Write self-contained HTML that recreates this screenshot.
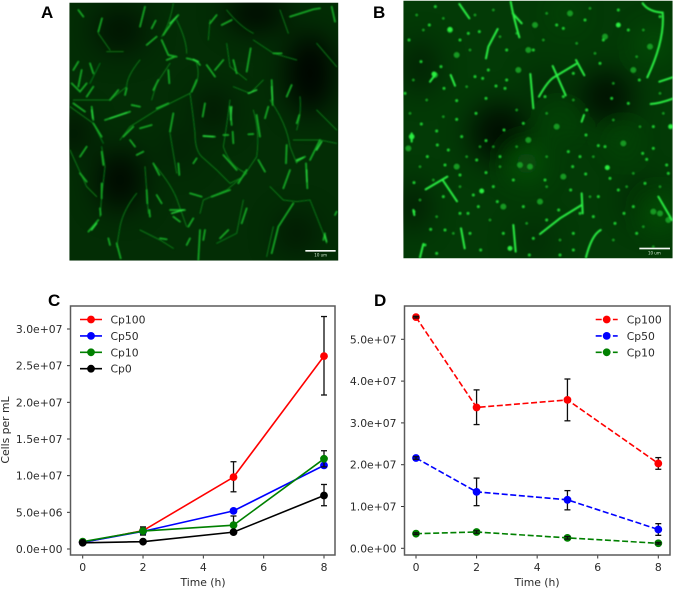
<!DOCTYPE html>
<html lang="en">
<head>
<meta charset="utf-8">
<title>Fluorescence micrographs and cell count charts</title>
<style>
html,body{margin:0;padding:0;background:#fff;width:673px;height:589px;overflow:hidden}
svg{display:block}
.tick{font:10.8px "DejaVu Sans",sans-serif;fill:#2a2a2a}
.panel{font:bold 17px "Liberation Sans",sans-serif;fill:#000}
</style>
</head>
<body>
<svg id="fig" width="673" height="589" viewBox="0 0 673 589" xmlns="http://www.w3.org/2000/svg">
<defs>
<filter id="b1" x="-5%" y="-5%" width="110%" height="110%"><feGaussianBlur stdDeviation="2.2"/></filter>
<filter id="b2" x="-20%" y="-20%" width="140%" height="140%"><feGaussianBlur stdDeviation="42"/></filter>
<filter id="soft" x="-5%" y="-5%" width="110%" height="110%"><feGaussianBlur stdDeviation="0.35"/></filter>
<clipPath id="ca"><rect x="118" y="8" width="807" height="774"/></clipPath>
<clipPath id="cb"><rect x="130" y="2" width="808" height="773"/></clipPath>
</defs>

<text class="panel" x="41" y="18">A</text>
<text class="panel" x="373" y="18">B</text>
<text class="panel" x="48" y="306">C</text>
<text class="panel" x="374" y="306">D</text>

<g transform="translate(30,0) scale(.33333)">
<g clip-path="url(#ca)">
<rect x="118" y="8" width="807" height="774" fill="#032d05"/>
<g filter="url(#b2)" fill="#000">
<ellipse cx="840" cy="220" rx="70" ry="120" opacity=".9"/>
<ellipse cx="680" cy="40" rx="90" ry="50" opacity=".85"/>
<ellipse cx="270" cy="540" rx="70" ry="90" opacity=".8"/>
<ellipse cx="130" cy="400" rx="40" ry="60" opacity=".7"/>
<ellipse cx="270" cy="90" rx="80" ry="70" opacity=".55"/>
<ellipse cx="550" cy="330" rx="50" ry="60" opacity=".5"/>
<ellipse cx="800" cy="700" rx="60" ry="60" opacity=".45"/>
<ellipse cx="450" cy="450" rx="40" ry="50" opacity=".35"/>
</g>
<g filter="url(#b1)" fill="none" stroke-linecap="round">
<path stroke="#0a7a14" stroke-width="3" d="M430,10 Q420,70 395,110 M440,60 Q470,120 470,160 M540,60 L535,120 M590,30 Q630,80 670,100 M670,120 Q700,140 730,160 L800,180 M240,150 L205,100 M230,155 L280,155 M210,190 L180,250 M330,180 Q290,230 290,260 L240,300 L130,300 M500,190 Q515,240 480,280 L380,330 L300,380 L270,420 M420,190 L380,250 L365,300 M480,280 Q490,350 495,400 Q495,450 515,470 L560,510 L600,550 L640,530 L680,470 M600,300 Q590,380 580,440 Q600,500 650,520 M670,330 Q690,400 680,470 M720,300 Q770,370 780,440 L800,490 M810,290 Q815,340 800,390 M215,440 L225,500 L215,590 L210,650 M320,580 Q280,630 270,680 L260,740 M345,500 Q350,570 355,640 M370,490 Q430,560 445,610 L470,680 M510,640 L520,600 L590,570 L650,520 M640,600 L620,700 L560,730 M720,560 L760,600 L800,605 L840,600 L880,700 L890,730 M730,680 L710,770 M330,690 L390,720 L430,745 M860,130 L920,200 M860,330 L920,390 M920,430 L870,420 L790,420 M120,450 L170,560 L200,590 M420,400 L440,520 M590,130 L600,200 L650,240 M700,240 L660,280 L610,260 M750,30 L775,100 M120,320 L190,370 L220,430"/>
<path stroke="#18b028" stroke-width="5" d="M205,95 L216,55 M345,20 L330,80 M365,85 L377,62 M350,135 L380,110 M400,105 Q430,60 445,45 M395,120 L415,165 L440,170 M410,180 L435,170 M470,175 Q500,180 510,195 M530,195 L555,230 M555,210 L580,180 M650,215 L662,145 M575,75 L605,60 M730,160 L755,160 M780,50 L850,28 L870,25 M905,20 L915,65 M540,70 L560,45 M145,30 L160,50 M130,210 L145,185 M155,210 L145,260 M180,190 L190,220 M125,250 L150,275 L170,250 M190,260 L170,290 M130,310 L165,335 M185,320 L190,360 M225,360 L300,335 M305,315 L330,320 M190,370 L215,410 M280,410 L310,380 M330,385 L365,375 M300,420 L315,440 M340,455 L320,465 M265,270 L240,300 M290,265 L285,285 M150,470 L170,440 M150,520 L170,545 M215,455 L220,495 M215,550 L215,595 M210,625 L212,645 M175,695 L205,660 M235,715 L240,735 M260,730 L272,775 M370,490 L388,525 M350,570 L352,610 M380,585 L395,610 M358,630 L360,650 M445,490 L448,525 M420,630 L465,630 M430,650 L450,665 M480,580 L515,590 M490,490 L500,475 M520,408 L555,410 M600,320 L605,375 M608,395 L610,430 M580,405 L595,405 M655,403 L670,402 M580,465 L620,510 M650,510 L625,550 M545,590 L600,570 M680,345 L690,410 M725,240 L728,315 M715,320 L705,355 M800,370 L808,345 M785,255 L770,290 M770,435 L768,490 M800,485 L825,470 M870,420 L840,480 M828,490 L832,565 M780,510 L760,565 M685,480 L705,515 M790,610 L745,680 L725,760 M885,700 L880,720 M650,625 L635,670 M595,690 L570,715 M490,655 L475,680 M480,715 L470,735 M510,690 L505,780 M525,690 L520,720 M390,715 L410,718 M430,340 L420,395 M525,310 L518,350 M415,210 L418,250 M385,240 L370,270 M500,240 L485,275 M415,310 L380,325 M610,180 L620,220 M920,635 L915,645"/>
<path stroke="#2ae040" stroke-width="4" d="M605,320 L602,360 M520,408 L550,410 M425,640 L460,630 M185,690 L200,670 M185,330 L188,355 M830,510 L831,545 M725,260 L727,300 M800,480 L820,472 M655,280 L680,270 M875,425 L860,450 M440,50 L420,70 M490,178 L505,185 M240,355 L290,338 M885,705 L890,725"/>
</g>
<rect x="826" y="750" width="91" height="5" fill="#f4f8f4"/>
<text x="872" y="770" font-family="DejaVu Sans,sans-serif" font-size="12" fill="#cfe8cf" text-anchor="middle">10 um</text>
</g>
</g>

<g transform="translate(360,0) scale(.33333)">
<g clip-path="url(#cb)">
<rect x="130" y="2" width="808" height="773" fill="#033a06"/>
<g filter="url(#b2)">
<g fill="#000">
<ellipse cx="420" cy="400" rx="90" ry="90" opacity=".75"/>
<ellipse cx="740" cy="290" rx="80" ry="80" opacity=".7"/>
<ellipse cx="160" cy="620" rx="40" ry="70" opacity=".6"/>
<ellipse cx="180" cy="200" rx="50" ry="80" opacity=".45"/>
<ellipse cx="560" cy="260" rx="60" ry="50" opacity=".3"/>
<ellipse cx="850" cy="600" rx="50" ry="60" opacity=".4"/>
<ellipse cx="520" cy="720" rx="60" ry="50" opacity=".25"/>
</g>
<g fill="#128a1c">
<ellipse cx="500" cy="490" rx="45" ry="45" opacity=".45"/>
<ellipse cx="880" cy="130" rx="40" ry="40" opacity=".4"/>
<ellipse cx="900" cy="640" rx="40" ry="40" opacity=".5"/>
<ellipse cx="790" cy="430" rx="30" ry="30" opacity=".35"/>
<ellipse cx="600" cy="370" rx="30" ry="30" opacity=".3"/>
<ellipse cx="620" cy="40" rx="30" ry="30" opacity=".35"/>
</g>
</g>
<g filter="url(#b1)" fill="none" stroke-linecap="round">
<path stroke="#129a20" stroke-width="18" d="M270,90h0M630,40h0M735,110h0M870,140h0M505,150h0M290,165h0M525,75h0M480,495h0M510,500h0M590,380h0M790,430h0M900,640h0M880,635h0M925,660h0M540,605h0M430,620h0M610,530h0M225,225h0M475,210h0M820,210h0M290,500h0M145,445h0M155,410h0M505,420h0"/>
<path stroke="#12a020" stroke-width="8" d="M170,45h0M190,90h0M250,55h0M345,45h0M400,30h0M560,40h0M690,25h0M850,90h0M830,170h0M705,160h0M650,130h0M470,100h0M420,110h0M160,240h0M200,300h0M150,340h0M320,260h0M470,330h0M560,340h0M640,300h0M760,360h0M840,380h0M910,340h0M180,500h0M220,540h0M320,470h0M420,500h0M470,440h0M560,470h0M700,470h0M820,520h0M900,560h0M180,600h0M230,650h0M280,700h0M390,660h0M500,670h0M600,720h0M760,720h0M880,740h0M850,680h0M800,560h0M690,590h0M560,560h0M360,440h0M300,560h0M400,440h0M250,350h0M330,150h0M550,120h0M760,250h0M900,280h0"/>
<path stroke="#1ed030" stroke-width="9" d="M226,20h0M208,75h0M147,120h0M325,100h0M358,95h0M300,120h0M183,185h0M243,200h0M385,210h0M440,150h0M345,230h0M368,235h0M408,258h0M435,265h0M252,265h0M290,302h0M378,295h0M348,340h0M290,358h0M184,372h0M230,393h0M305,410h0M378,422h0M432,390h0M490,370h0M232,435h0M265,450h0M202,470h0M255,495h0M350,480h0M378,518h0M300,525h0M162,548h0M365,573h0M340,585h0M412,605h0M300,640h0M324,640h0M162,635h0M212,688h0M255,690h0M362,750h0M230,760h0M430,700h0M520,715h0M555,540h0M625,455h0M660,470h0M638,500h0M677,522h0M742,503h0M750,535h0M715,437h0M735,440h0M678,405h0M632,570h0M596,630h0M560,660h0M792,640h0M765,670h0M820,620h0M860,478h0M848,460h0M880,380h0M932,380h0M920,495h0M855,550h0M775,75h0M805,90h0M720,190h0M755,295h0M805,310h0M520,150h0M590,75h0M610,85h0M675,60h0M775,30h0M555,290h0M680,330h0M610,290h0M640,220h0M730,120h0M838,240h0M900,50h0M600,765h0M640,750h0M508,765h0M135,280h0M440,240h0M420,470h0M400,560h0M460,540h0M330,700h0M925,520h0M880,445h0M660,640h0M715,590h0M775,570h0M355,620h0M195,735h0M250,590h0M640,700h0M700,650h0M830,700h0M490,620h0"/>
<path stroke="#2aee40" stroke-width="15" d="M270,88h0M222,222h0M450,745h0M365,573h0M742,503h0M775,75h0M932,380h0M155,410h0"/>
<path stroke="#2cf244" stroke-width="6" d="M298,12 L328,55 M452,5 Q460,50 478,112 M458,40 L485,70 M413,87 L385,140 L378,175 M848,10 Q865,35 908,38 Q915,120 862,232 M938,232 L898,245 M872,312 Q900,310 938,296 M537,290 Q565,240 585,230 L648,192 M648,180 L673,226 M578,198 L617,286 M511,222 L520,325 M272,225 L285,257 M672,345 L665,365 M197,568 L262,530 M248,540 L291,604 M895,590 L936,660 M540,702 L600,655 L665,615 M665,580 L668,640 M303,685 L314,745 M460,675 L467,755 M190,732 L180,772 M722,690 Q695,705 678,772 M155,400 L155,425 M160,630 L163,645 M210,245 L225,225"/>
</g>
<rect x="838" y="743" width="92" height="5" fill="#f4f8f4"/>
<text x="883" y="763" font-family="DejaVu Sans,sans-serif" font-size="12" fill="#cfe8cf" text-anchor="middle">10 um</text>
</g>
</g>

<g id="chart-c" filter="url(#soft)"></g>
<g id="chart-d" filter="url(#soft)"></g>
</svg>

<script>
const timePoints = [0, 2, 5, 8];
const xTickValues = [0, 2, 4, 6, 8];

const cp100C = [0.9e6, 2.5e6, 9.8e6, 26.3e6];
const cp100CLow = [0.8e6, 2.0e6, 7.8e6, 21.0e6];
const cp100CHigh = [1.0e6, 3.0e6, 11.9e6, 31.7e6];
const cp50C = [0.9e6, 2.4e6, 5.2e6, 11.4e6];
const cp50CLow = [0.8e6, 2.1e6, 4.9e6, 11.0e6];
const cp50CHigh = [1.0e6, 2.7e6, 5.5e6, 11.8e6];
const cp10C = [1.0e6, 2.45e6, 3.25e6, 12.3e6];
const cp10CLow = [0.9e6, 1.9e6, 2.0e6, 11.2e6];
const cp10CHigh = [1.1e6, 3.0e6, 4.5e6, 13.4e6];
const cp0C = [0.85e6, 1.0e6, 2.3e6, 7.3e6];
const cp0CLow = [0.75e6, 0.8e6, 2.0e6, 5.9e6];
const cp0CHigh = [0.95e6, 1.2e6, 2.6e6, 8.8e6];
const yTicksC = [0, 5e6, 1e7, 1.5e7, 2e7, 2.5e7, 3e7];
const yLabelsC = ["0.0e+00", "5.0e+06", "1.0e+07", "1.5e+07", "2.0e+07", "2.5e+07", "3.0e+07"];

const cp100D = [55.3e6, 33.7e6, 35.5e6, 20.3e6];
const cp100DLow = [55.1e6, 29.6e6, 30.5e6, 18.9e6];
const cp100DHigh = [55.5e6, 37.9e6, 40.5e6, 21.7e6];
const cp50D = [21.6e6, 13.5e6, 11.6e6, 4.5e6];
const cp50DLow = [21.3e6, 10.2e6, 9.2e6, 3.1e6];
const cp50DHigh = [21.9e6, 16.8e6, 13.8e6, 5.9e6];
const cp10D = [3.5e6, 3.9e6, 2.5e6, 1.2e6];
const cp10DLow = [3.3e6, 3.6e6, 2.2e6, 1.0e6];
const cp10DHigh = [3.7e6, 4.2e6, 2.8e6, 1.4e6];
const yTicksD = [0, 1e7, 2e7, 3e7, 4e7, 5e7];
const yLabelsD = ["0.0e+00", "1.0e+07", "2.0e+07", "3.0e+07", "4.0e+07", "5.0e+07"];

const NS = "http://www.w3.org/2000/svg";

function make(parent, tag, attrs, text) {
  const el = document.createElementNS(NS, tag);
  for (const k in attrs) el.setAttribute(k, attrs[k]);
  if (text !== undefined) el.textContent = text;
  parent.appendChild(el);
  return el;
}

function drawChart(cfg) {
  const root = document.getElementById(cfg.id);
  const xPos = v => cfg.x0 + (v / 8) * (cfg.x8 - cfg.x0);
  const yPos = v => cfg.y0 - (v / cfg.yRefValue) * (cfg.y0 - cfg.yRefPixel);
  const axisColor = "#5a5a5a";

  const bg = make(root, "rect", {x: cfg.left, y: cfg.top, width: cfg.right - cfg.left, height: cfg.bottom - cfg.top, fill: "#fff"});
  
  

  xTickValues.forEach(v => {
    const px = xPos(v);
    const tick = make(root, "line", {x1: px, x2: px, y1: cfg.bottom, y2: cfg.bottom + 3.5, stroke: "#333", "stroke-width": 1});
    
    
    const label = make(root, "text", {x: px, y: cfg.bottom + 16, "text-anchor": "middle", class: "tick"}, String(v));
    
    
  });

  cfg.yTicks.forEach((v, i) => {
    const py = yPos(v);
    const tick = make(root, "line", {x1: cfg.left - 3.5, x2: cfg.left, y1: py, y2: py, stroke: "#333", "stroke-width": 1});
    
    
    const label = make(root, "text", {x: cfg.left - 8, y: py + 4, "text-anchor": "end", class: "tick"}, cfg.yLabels[i]);
    
    
  });

  cfg.series.forEach(s => {
    const pts = timePoints.map((t, i) => xPos(t) + "," + yPos(s.values[i])).join(" ");
    const line = make(root, "polyline", {points: pts, fill: "none", stroke: s.color, "stroke-width": 1.6});
    if (cfg.dashed) line.setAttribute("stroke-dasharray", "6 2.6");
    
    

    const tiny = [];
    const drawErr = i => {
      const px = xPos(timePoints[i]);
      const g = make(root, "g", {stroke: "#111", "stroke-width": 1.3});
      
      
      make(g, "line", {x1: px, x2: px, y1: yPos(s.low[i]), y2: yPos(s.high[i])});
      make(g, "line", {x1: px - 3, x2: px + 3, y1: yPos(s.low[i]), y2: yPos(s.low[i])});
      make(g, "line", {x1: px - 3, x2: px + 3, y1: yPos(s.high[i]), y2: yPos(s.high[i])});
    };
    timePoints.forEach((t, i) => {
      if (yPos(s.low[i]) - yPos(s.high[i]) < 7) tiny.push(i);
      else drawErr(i);
    });
    timePoints.forEach((t, i) => {
      const dot = make(root, "circle", {cx: xPos(t), cy: yPos(s.values[i]), r: 3.9, fill: s.color});
      
      
    });
    if (cfg.dashed) tiny.forEach(drawErr);
  });

  const frame = make(root, "rect", {x: cfg.left, y: cfg.top, width: cfg.right - cfg.left, height: cfg.bottom - cfg.top, fill: "none", stroke: axisColor, "stroke-width": 1.5});
  
  

  cfg.series.forEach((s, i) => {
    const ly = cfg.legendY + i * 16.4;
    const g = make(root, "g", {});
    
    
    const key = make(g, "line", {x1: cfg.legendX, x2: cfg.legendX + 22, y1: ly, y2: ly, stroke: s.color, "stroke-width": 1.6});
    if (cfg.dashed) key.setAttribute("stroke-dasharray", "6 2.6");
    make(g, "circle", {cx: cfg.legendX + 11, cy: ly, r: 3.9, fill: s.color});
    make(g, "text", {x: cfg.legendX + cfg.legendGap, y: ly + 4, class: "tick"}, s.name);
  });

  const xt = make(root, "text", {x: cfg.xTitleX, y: 586, "text-anchor": "middle", class: "tick"}, "Time (h)");
  
  
  if (cfg.yTitle) {
    const yt = make(root, "text", {transform: "translate(9,430) rotate(-90)", "text-anchor": "middle", class: "tick"}, cfg.yTitle);
    
    
  }
}

drawChart({
  id: "chart-c", left: 70.5, right: 335, top: 306, bottom: 555,
  x0: 82.7, x8: 324, y0: 549, yRefPixel: 329, yRefValue: 3e7,
  yTicks: yTicksC, yLabels: yLabelsC, dashed: false,
  legendX: 80, legendY: 319.5, legendGap: 30.5, xTitleX: 203, yTitle: "Cells per mL",
  series: [
    {name: "Cp100", color: "#ff0000", values: cp100C, low: cp100CLow, high: cp100CHigh},
    {name: "Cp50", color: "#0000ff", values: cp50C, low: cp50CLow, high: cp50CHigh},
    {name: "Cp10", color: "#008000", values: cp10C, low: cp10CLow, high: cp10CHigh},
    {name: "Cp0", color: "#000000", values: cp0C, low: cp0CLow, high: cp0CHigh}
  ]
});

drawChart({
  id: "chart-d", left: 404.5, right: 670, top: 306, bottom: 555,
  x0: 416, x8: 658.3, y0: 548.3, yRefPixel: 339.3, yRefValue: 5e7,
  yTicks: yTicksD, yLabels: yLabelsD, dashed: true,
  legendX: 595.7, legendY: 319.5, legendGap: 31, xTitleX: 537, yTitle: "",
  series: [
    {name: "Cp100", color: "#ff0000", values: cp100D, low: cp100DLow, high: cp100DHigh},
    {name: "Cp50", color: "#0000ff", values: cp50D, low: cp50DLow, high: cp50DHigh},
    {name: "Cp10", color: "#008000", values: cp10D, low: cp10DLow, high: cp10DHigh}
  ]
});
</script>
</body>
</html>
